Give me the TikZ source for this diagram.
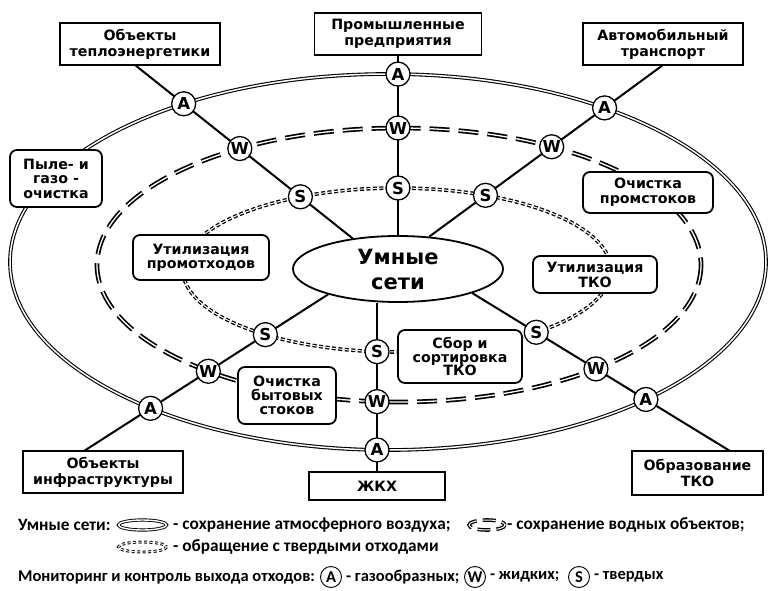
\documentclass[tikz,border=0pt]{standalone}
\usepackage{fontspec}
\setmainfont{DejaVu Sans}
\newfontfamily\legfont{Carlito}
\usetikzlibrary{intersections,calc,shapes.geometric}
\begin{document}
\begin{tikzpicture}[x=1pt,y=-1pt,
 src/.style={draw, line width=1.8pt, fill=white, align=center, inner sep=0pt, font=\bfseries\fontsize{14.2}{16}\selectfont},
 proc/.style={draw, line width=1.8pt, fill=white, rounded corners=7pt, align=center, inner sep=0pt, font=\bfseries\fontsize{14.2}{14}\selectfont},
 mon/.style={circle, draw, line width=1.3pt, fill=white, minimum size=24pt, inner sep=0pt, font=\bfseries\fontsize{16.5}{16.5}\selectfont},
 spoke/.style={line width=2pt},
 airline/.style={double, line width=1.1pt, double distance=1.5pt},
 waterline/.style={double, line width=1.7pt, double distance=1.3pt, dash pattern=on 20pt off 9pt},
 wasteline/.style={double, line width=1.3pt, double distance=1pt, dash pattern=on 4pt off 2.5pt},
 leg/.style={anchor=west, inner sep=0pt, font=\legfont\bfseries\fontsize{16.5}{16.5}\selectfont},
 legbig/.style={leg, font=\legfont\bfseries\fontsize{17.3}{17.3}\selectfont},
 legmon/.style={circle, draw, line width=0.9pt, minimum size=21pt, inner sep=0pt, font=\legfont\bfseries\fontsize{16.5}{16.5}\selectfont},
]
\useasboundingbox (0,0) rectangle (769,591);

% smart-grid rings
\draw[airline, name path=outer] (388,262) ellipse [x radius=378, y radius=188];
\draw[waterline, name path=water] (399,265) ellipse [x radius=302, y radius=137];
\draw[wasteline, name path=waste] (397,270) ellipse [x radius=214, y radius=82];

% centre
\node[ellipse, draw, line width=1.8pt, fill=white, minimum width=210pt, minimum height=66pt, inner sep=0pt, align=center, font=\bfseries\fontsize{21}{25}\selectfont] (cen) at (398,269) {Умные\\сети};

% sources
\node[src, minimum width=160pt, minimum height=42pt] (teplo) at (140,44) {Объекты\\теплоэнергетики};
\node[src, minimum width=167pt, minimum height=42pt] (prom) at (398,34) {Промышленные\\предприятия};
\node[src, minimum width=160pt, minimum height=42pt] (auto) at (663,44) {Автомобильный\\транспорт};
\node[src, minimum width=160pt, minimum height=42pt] (infra) at (103,472) {Объекты\\инфраструктуры};
\node[src, minimum width=136pt, minimum height=28pt] (zhkh) at (377,486) {ЖКХ};
\node[src, minimum width=131pt, minimum height=44pt] (obr) at (697.5,473) {Образование\\ТКО};

% processes
\node[proc, minimum width=92pt, minimum height=57pt, font=\bfseries\fontsize{14.2}{14.5}\selectfont] (pyle) at (56,178.5) {Пыле- и\\газо -\\очистка};
\node[proc, minimum width=130pt, minimum height=41pt, font=\bfseries\fontsize{14.2}{15}\selectfont] (ochprom) at (648,192.5) {Очистка\\промстоков};
\node[proc, minimum width=136pt, minimum height=45pt] (utilprom) at (201,257.5) {Утилизация\\промотходов};
\node[proc, minimum width=124pt, minimum height=37pt, font=\bfseries\fontsize{14.2}{15}\selectfont] (utiltko) at (595,274.5) {Утилизация\\ТКО};
\node[proc, minimum width=124pt, minimum height=53pt, font=\bfseries\fontsize{14.2}{13.5}\selectfont] (sbor) at (460,356.5) {Сбор и\\сортировка\\ТКО};
\node[proc, minimum width=98pt, minimum height=57pt, font=\bfseries\fontsize{14.2}{13.8}\selectfont] (ochbyt) at (287,395.5) {Очистка\\бытовых\\стоков};

% spokes
\coordinate (s1) at (135,65);
\coordinate (s3) at (663,65);
\coordinate (s4) at (84,451);
\coordinate (s6) at (730,451);
\draw[spoke, name path=sp1] (s1) -- (cen.146);
\draw[spoke, name path=sp2] (prom.south) -- (cen.north);
\draw[spoke, name path=sp3] (s3) -- (cen.46);
\draw[spoke, name path=sp4] (s4) -- (cen.200);
\draw[spoke, name path=sp5] (zhkh.north) -- (zhkh.north |- cen.south);
\draw[spoke, name path=sp6] (s6) -- (cen.342);

% monitoring points
\foreach \s in {1,...,6}{
  \path[name intersections={of=outer and sp\s, by=a\s}];
  \path[name intersections={of=water and sp\s, by=w\s}];
  \path[name intersections={of=waste and sp\s, by=t\s}];
  \node[mon] (ma\s) at (a\s) {A};
  \node[mon] (mw\s) at (w\s) {W};
  \node[mon] (ms\s) at (t\s) {S};
}

% legend
\node[legbig] (l1) at (18,525) {Умные сети:};
\draw[airline, line width=0.9pt, double distance=1.4pt] (142.5,525) ellipse [x radius=24, y radius=5];
\node[legbig] (l2) at (173,525) {- сохранение атмосферного воздуха;};
\draw[double, line width=1.3pt, double distance=1pt, dash pattern=on 13pt off 6pt, dash phase=3pt] (487,525) ellipse [x radius=18, y radius=5];
\node[legbig] (l3) at (507,525) {- сохранение водных объектов;};
\draw[wasteline, line width=1pt, double distance=0.9pt, dash pattern=on 3pt off 2.5pt] (142.5,547) ellipse [x radius=24, y radius=5];
\node[legbig] (l4) at (173,547) {- обращение с твердыми отходами};
\node[leg] (l5) at (18,577) {Мониторинг и контроль выхода отходов:};
\node[legmon] (lA) at (331,577) {A};
\node[leg] (l6) at (346,577) {- газообразных;};
\node[legmon] (lW) at (475,577) {W};
\node[leg] (l7) at (490,577) {- жидких;};
\node[legmon] (lS) at (579,577) {S};
\node[leg] (l8) at (594,577) {- твердых};
\end{tikzpicture}
\end{document}
